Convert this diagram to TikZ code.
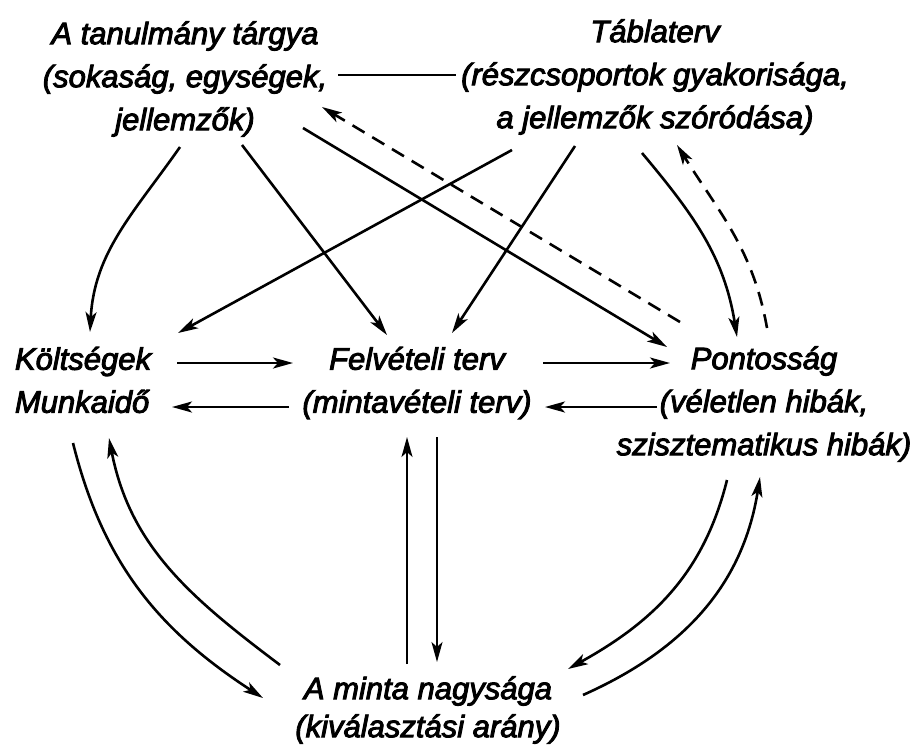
\documentclass[tikz,border=0pt]{standalone}
\usepackage{fontspec}
\setmainfont{Liberation Sans}[ItalicFeatures={FakeBold=3}]
\usepackage{tikz}
\usetikzlibrary{arrows.meta}

\begin{document}
\begin{tikzpicture}[x=1pt, y=1pt,
    every node/.style={font=\fontsize{31}{43}\selectfont\itshape, align=center, inner sep=0pt},
    link/.style={line width=2.6pt, -{Stealth[length=20pt, width=11pt, inset=5pt]}},
    back/.style={link, dash pattern=on 14pt off 9pt}]
    \useasboundingbox (0,0) rectangle (913,-750);

    % topics
    \node (tanulmany) at (185,-79) {A tanulmány tárgya\\(sokaság, egységek,\\jellemzők)};
    \node (tablaterv) at (655,-77) {Táblaterv\\(részcsoportok gyakorisága,\\a jellemzők szóródása)};
    \node[align=left] (koltseg) at (83,-380) {Költségek\\Munkaidő};
    \node (felvetel) at (417,-383) {Felvételi terv\\(mintavételi terv)};
    \node (pontossag) at (764,-404) {Pontosság\\(véletlen hibák,\\szisztematikus hibák)};
    \node[font=\fontsize{31}{38}\selectfont\itshape] (minta) at (428,-710) {A minta nagysága\\(kiválasztási arány)};

    % top row
    \draw[line width=2.6pt] ([shift={(153,4)}]tanulmany.center) -- ([shift={(-199,2)}]tablaterv.center);
    \draw[link] ([shift={(-5,-68)}]tanulmany.center) to[out=-125, in=87] ([shift={(7,48)}]koltseg.center);
    \draw[link] ([shift={(57,-66)}]tanulmany.center) -- ([shift={(-30,48)}]felvetel.center);
    \draw[link] ([shift={(118,-49)}]tanulmany.center) -- ([shift={(-97,57)}]pontossag.center);
    \draw[back] ([shift={(-84,82)}]pontossag.center) -- ([shift={(137,-28)}]tanulmany.center);
    \draw[link] ([shift={(-143,-73)}]tablaterv.center) -- ([shift={(95,47)}]koltseg.center);
    \draw[link] ([shift={(-80,-69)}]tablaterv.center) -- ([shift={(35,50)}]felvetel.center);
    \draw[link] ([shift={(-13,-76)}]tablaterv.center) to[out=-50, in=99] ([shift={(-27,67)}]pontossag.center);
    \draw[back] ([shift={(3,76)}]pontossag.center) to[out=100, in=-58] ([shift={(22,-68)}]tablaterv.center);

    % middle row
    \draw[link] ([shift={(94,17)}]koltseg.center) -- ([shift={(-124,20)}]felvetel.center);
    \draw[link] ([shift={(-128,-24)}]felvetel.center) -- ([shift={(89,-27)}]koltseg.center);
    \draw[link] ([shift={(126,20)}]felvetel.center) -- ([shift={(-94,41)}]pontossag.center);
    \draw[link] ([shift={(-107,-3)}]pontossag.center) -- ([shift={(128,-24)}]felvetel.center);

    % sample size
    \draw[link] ([shift={(-10,-63)}]koltseg.center) to[out=-76, in=147] ([shift={(-165,12)}]minta.center);
    \draw[link] ([shift={(-148,45)}]minta.center) to[out=143, in=-79] ([shift={(26,-58)}]koltseg.center);
    \draw[link, line width=2pt] ([shift={(-21,46)}]minta.center) -- ([shift={(-10,-54)}]felvetel.center);
    \draw[link, line width=2pt] ([shift={(20,-54)}]felvetel.center) -- ([shift={(9,48)}]minta.center);
    \draw[link] ([shift={(-37,-76)}]pontossag.center) to[out=-104, in=29] ([shift={(140,41)}]minta.center);
    \draw[link] ([shift={(155,15)}]minta.center) to[out=24, in=-99] ([shift={(-4,-73)}]pontossag.center);
\end{tikzpicture}
\end{document}
